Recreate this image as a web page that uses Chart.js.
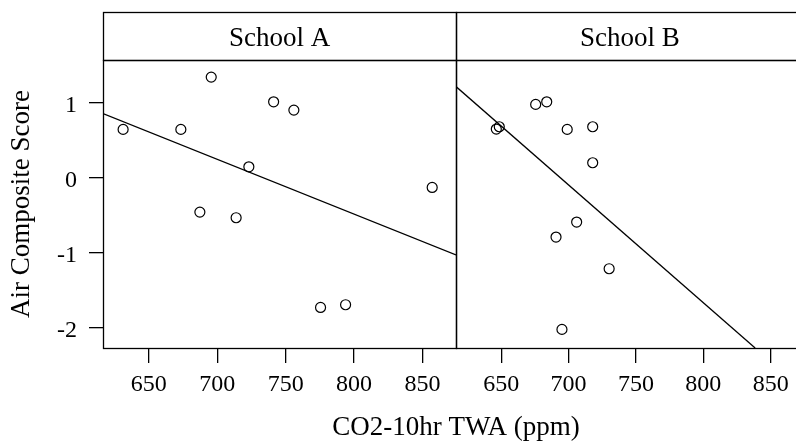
<!DOCTYPE html>
<html lang="en">
<head>
  <meta charset="UTF-8">
  <title>Air Composite Score vs CO2</title>
  <script src="https://cdn.jsdelivr.net/npm/chart.js"></script>
  <style>
    body {
      margin: 0;
      background: #fff;
    }
    #wrap {
      position: relative;
      width: 796px;
      height: 442px;
      overflow: hidden;
      background: #fff;
    }
    #wrap canvas {
      position: absolute;
      top: 0;
    }
  </style>
</head>
<body>
  <div id="wrap">
    <canvas id="panelA" width="810" height="442" style="left:0;width:810px;height:442px"></canvas>
    <canvas id="panelB" width="364" height="442" style="left:446px;width:364px;height:442px"></canvas>
  </div>

  <script>
    // School A measurements
    const schoolACo2 = [631.2, 673.4, 695.6, 741.2, 756.0, 723.1, 857.1, 687.3, 713.8, 775.5, 793.8];
    const schoolAScore = [0.645, 0.645, 1.342, 1.013, 0.902, 0.146, -0.129, -0.458, -0.533, -1.729, -1.693];
    // School B measurements
    const schoolBCo2 = [675.6, 683.8, 646.4, 648.6, 699.0, 717.9, 717.9, 706.0, 690.7, 730.1, 695.1];
    const schoolBScore = [0.978, 1.013, 0.649, 0.680, 0.645, 0.680, 0.200, -0.591, -0.791, -1.213, -2.022];

    // fitted regression lines (end points)
    const fitACo2 = [616.5, 874.5];
    const fitAScore = [0.855, -1.03];
    const fitBCo2 = [616.5, 838.4];
    const fitBScore = [1.216, -2.27];

    const xTicks = [650, 700, 750, 800, 850];
    const yTicks = [-2, -1, 0, 1];
    const xRange = [616.5, 874.5];
    const yRange = [-2.27, 1.57];

    const FONT = 'Liberation Serif, Times New Roman, serif';
    Chart.defaults.font.family = FONT;
    Chart.defaults.color = '#000';

    const toPoints = (xs, ys) => xs.map((x, i) => ({ x: x, y: ys[i] }));

    // strip on top, box round the panel, shared x title
    const panelPlugin = {
      id: 'panel',
      afterDraw(chart, args, opts) {
        const ctx = chart.ctx;
        const a = chart.chartArea;
        const l = Math.round(a.left) + 0.5;
        const r = Math.round(a.right) + 0.5;
        const t = Math.round(a.top) + 0.5;
        const b = Math.round(a.bottom) + 0.5;
        ctx.save();
        ctx.strokeStyle = '#000';
        ctx.lineWidth = 1.3;
        ctx.strokeRect(l, 12.5, r - l, t - 12.5);
        ctx.strokeRect(l, t, r - l, b - t);
        ctx.fillStyle = '#000';
        ctx.font = '27px ' + FONT;
        ctx.textAlign = 'center';
        ctx.textBaseline = 'middle';
        ctx.fillText(opts.label, (a.left + a.right) / 2, 39);
        if (opts.xTitle) {
          ctx.fillText(opts.xTitle, opts.xTitleX, 428);
        }
        ctx.restore();
      }
    };

    function makeOptions(label, showY, padding, xTitle) {
      return {
        responsive: false,
        animation: false,
        layout: { padding: padding },
        plugins: {
          legend: { display: false },
          tooltip: { enabled: false },
          panel: { label: label, xTitle: xTitle, xTitleX: 456 }
        },
        scales: {
          x: {
            type: 'linear',
            min: xRange[0],
            max: xRange[1],
            afterBuildTicks: (s) => { s.ticks = xTicks.map(v => ({ value: v })); },
            afterFit: (s) => { s.height = 94; },
            grid: { drawOnChartArea: false, drawTicks: true, tickLength: 15, color: '#000', lineWidth: 1.3 },
            border: { display: false },
            ticks: { font: { size: 24 }, padding: 7, maxRotation: 0, color: '#000' }
          },
          y: {
            type: 'linear',
            display: showY,
            min: yRange[0],
            max: yRange[1],
            afterBuildTicks: (s) => { s.ticks = yTicks.map(v => ({ value: v })); },
            afterFit: (s) => { s.width = showY ? 103 : 0; },
            grid: { drawOnChartArea: false, drawTicks: true, tickLength: 14, color: '#000', lineWidth: 1.3 },
            border: { display: false },
            ticks: { font: { size: 24 }, padding: 12, labelOffset: 3, color: '#000' },
            title: {
              display: true,
              text: 'Air Composite Score',
              font: { size: 27 },
              padding: { top: 6, bottom: 0 },
              color: '#000'
            }
          }
        }
      };
    }

    function makeData(co2, score, fitX, fitY) {
      return {
        datasets: [{
          type: 'scatter',
          data: toPoints(co2, score),
          pointStyle: 'circle',
          pointRadius: 5,
          pointBorderWidth: 1.2,
          borderColor: '#000',
          backgroundColor: 'rgba(0,0,0,0)'
        }, {
          type: 'line',
          data: toPoints(fitX, fitY),
          borderColor: '#000',
          borderWidth: 1.3,
          pointRadius: 0,
          fill: false
        }]
      };
    }

    new Chart(document.getElementById('panelA'), {
      type: 'scatter',
      data: makeData(schoolACo2, schoolAScore, fitACo2, fitAScore),
      options: makeOptions('School A', true, { left: 0, top: 60, right: 354, bottom: 0 }, 'CO2-10hr TWA (ppm)'),
      plugins: [panelPlugin]
    });

    new Chart(document.getElementById('panelB'), {
      type: 'scatter',
      data: makeData(schoolBCo2, schoolBScore, fitBCo2, fitBScore),
      options: makeOptions('School B', false, { left: 10, top: 60, right: 1, bottom: 0 }, null),
      plugins: [panelPlugin]
    });
  </script>
</body>
</html>
